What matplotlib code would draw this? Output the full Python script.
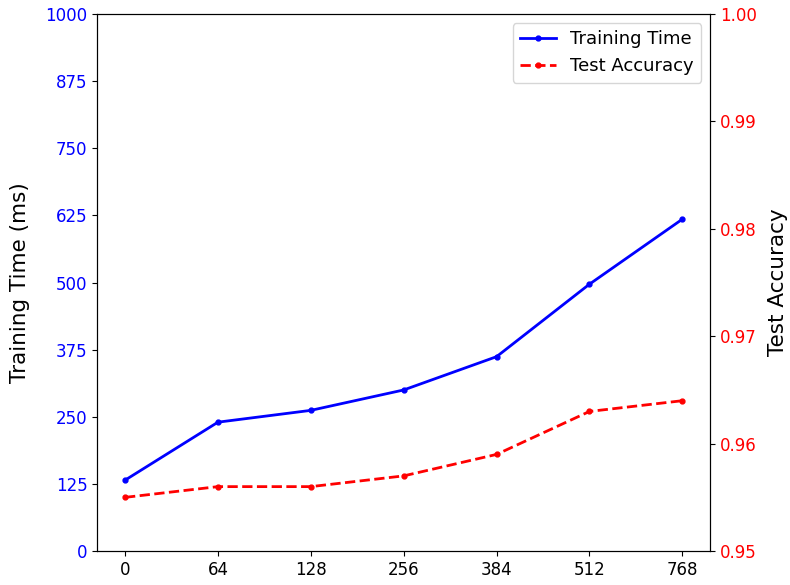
import matplotlib.pyplot as plt

hidden_sizes = ["0", "64", "128", "256", "384", "512", "768"]
training_time = [132, 240, 262, 300, 362, 497, 618]
test_accuracy = [0.955, 0.956, 0.956, 0.957, 0.959, 0.963, 0.964]

fig = plt.figure(figsize=(7.9, 5.85), dpi=100)
ax1 = fig.add_axes([0.123, 0.058, 0.776, 0.918])
x = range(len(hidden_sizes))

line1, = ax1.plot(x, training_time, color="blue", marker=".", markersize=7,
                  linewidth=2, linestyle="-", label="Training Time")
ax1.set_ylabel("Training Time (ms)", fontsize=15.5, labelpad=11)
ax1.set_ylim(0, 1000)
ax1.set_yticks(range(0, 1001, 125))
ax1.tick_params(axis="y", labelcolor="blue", labelsize=12)
ax1.tick_params(axis="x", labelsize=12)
ax1.set_xticks(list(x))
ax1.set_xticklabels(hidden_sizes)

ax2 = ax1.twinx()
line2, = ax2.plot(x, test_accuracy, color="red", marker=".", markersize=7,
                  linewidth=2, linestyle="--", label="Test Accuracy")
ax2.set_ylabel("Test Accuracy", fontsize=15.5, labelpad=8)
ax2.set_ylim(0.95, 1.0)
ax2.set_yticks([0.95, 0.96, 0.97, 0.98, 0.99, 1.00])
ax2.tick_params(axis="y", labelcolor="red", labelsize=12)

ax1.legend(handles=[line1, line2], loc="upper right", fontsize=13)

fig.savefig("out.png")
